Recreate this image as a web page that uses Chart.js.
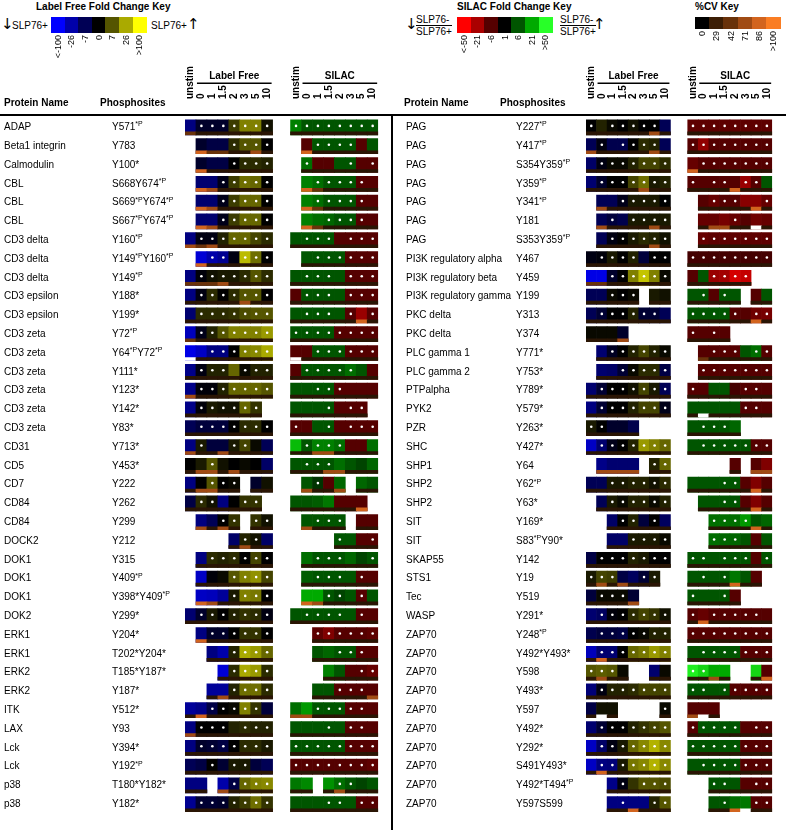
<!DOCTYPE html>
<html lang="en">
<head>
  <meta charset="UTF-8" />
  <title>Phosphosite fold change heatmap</title>
  <script src="https://cdn.jsdelivr.net/npm/chart.js@4"></script>
  <style>
    body { margin: 0; background: #fff; font-family: "Liberation Sans", Arial, sans-serif; color: #000; }
    #page { position: relative; width: 786px; height: 832px; overflow: hidden; }
    .abs { position: absolute; white-space: nowrap; }
    .title { font-weight: bold; font-size: 10px; }
    .lbl { font-size: 10px; }
    .arrow { font-size: 15px; font-family: "DejaVu Sans", sans-serif; }
    .frac { font-size: 10px; line-height: 11px; }
    .frac span { display: block; }
    .frac span:first-child { border-bottom: 1px solid #000; }
    .rot { position: absolute; font-size: 9px; line-height: 10px; text-align: right; transform-origin: 0 0; }
    canvas { position: absolute; top: 60px; }
    .hline { position: absolute; left: 0; top: 114px; width: 786px; height: 2px; background: #000; }
    .vline { position: absolute; left: 391px; top: 114px; width: 2px; height: 716px; background: #000; }
  </style>
</head>
<body>
<div id="page">
  <div class="abs title" style="left:36px;top:1px">Label Free Fold Change Key</div>
  <div class="abs arrow" style="left:1px;top:15px">↓</div>
  <div class="abs lbl" style="left:12px;top:20px">SLP76+</div>
  <div class="abs lbl" style="left:151px;top:20px">SLP76+</div>
  <div class="abs arrow" style="left:187px;top:15px">↑</div>

  <div class="abs title" style="left:457px;top:1px">SILAC Fold Change Key</div>
  <div class="abs arrow" style="left:405px;top:15px">↓</div>
  <div class="abs frac" style="left:416px;top:14px"><span>SLP76-</span><span>SLP76+</span></div>
  <div class="abs frac" style="left:560px;top:14px"><span>SLP76-</span><span>SLP76+</span></div>
  <div class="abs arrow" style="left:593px;top:15px">↑</div>

  <div class="abs title" style="left:695px;top:1px">%CV Key</div>

  <canvas id="leftChart" width="392" height="772" style="left:0"></canvas>
  <canvas id="rightChart" width="392" height="772" style="left:394px"></canvas>
  <div class="hline"></div>
  <div class="vline"></div>
</div>

<script>
  // column labels (minutes)
  const colLabels = ['unstim', '0', '1', '1.5', '2', '3', '5', '10'];

  // key colours and labels
  const lfKeyColors = [[0,0,255],[0,0,170],[0,0,85],[0,0,0],[85,85,0],[170,170,0],[255,255,0]];
  const lfKeyLabels = ['<-100', '-26', '-7', '0', '7', '26', '>100'];
  const silacKeyColors = [[255,0,0],[170,0,0],[85,0,0],[0,0,0],[0,85,0],[0,170,0],[40,255,40]];
  const silacKeyLabels = ['<-50', '-21', '-6', '1', '6', '21', '>50'];
  const cvKeyColors = [[0,0,0],[60,30,5],[105,50,10],[160,75,20],[210,100,30],[250,125,35]];
  const cvKeyLabels = ['0', '29', '42', '71', '86', '>100'];

  // ---- left half ----
  const leftProteins = ['ADAP','Beta1 integrin','Calmodulin','CBL','CBL','CBL','CD3 delta','CD3 delta','CD3 delta',
    'CD3 epsilon','CD3 epsilon','CD3 zeta','CD3 zeta','CD3 zeta','CD3 zeta','CD3 zeta','CD3 zeta','CD31','CD5','CD7',
    'CD84','CD84','DOCK2','DOK1','DOK1','DOK1','DOK2','ERK1','ERK1','ERK2','ERK2','ITK','LAX','Lck','Lck','p38','p38'];
  const leftSites = ['Y571*P','Y783','Y100*','S668Y674*P','S669*PY674*P','S667*PY674*P','Y160*P','Y149*PY160*P','Y149*P',
    'Y188*','Y199*','Y72*P','Y64*PY72*P','Y111*','Y123*','Y142*','Y83*','Y713*','Y453*','Y222','Y262','Y299','Y212',
    'Y315','Y409*P','Y398*Y409*P','Y299*','Y204*','T202*Y204*','T185*Y187*','Y187*','Y512*','Y93','Y394*','Y192*P',
    'T180*Y182*','Y182*'];

  // label free level (-3 .. 3), null = not measured
  const leftLF = [
    [-1.5,-0.5,-0.5,-0.5,0.7,1.5,1.5,0.2],
    [null,-0.5,-0.8,-0.8,0.5,1,1,0],
    [null,-0.5,-0.8,-0.8,0,0.5,0.5,0.4],
    [null,-1.3,-1.3,-0.3,0.7,1.3,1.2,0],
    [null,-1.3,-1.3,-0.3,0.7,1.2,1.2,0],
    [null,-1.3,-1.3,-0.3,0.7,1.2,1.2,0],
    [-1.5,-0.2,-0.2,0.4,1.2,1.2,0.8,0.5],
    [null,-2.5,-2,-1.7,-0.2,2.2,1.3,0],
    [-1.5,-0.1,0.2,0.3,0.3,0.5,1,0.5],
    [-1.5,-0.2,0.5,0,0.5,1,1,0],
    [-1.3,0.5,0.5,0.5,0.6,0.9,1,1],
    [-2.2,-0.3,0.4,1,1.5,1.5,1.5,1.8],
    [-2.7,-2.3,-1.5,-1.5,0,1.5,1.6,2],
    [-1.6,-0.2,0.4,0.4,1.2,0.1,0.4,0.4],
    [-1.6,-0.1,-0.1,0.4,1.2,1.2,1.2,1],
    [-1.6,-0.1,0.3,0.2,0.2,1.2,0.6,null],
    [-1,-0.7,-0.7,-0.7,0,0.5,0.5,0],
    [-1.5,0.3,-0.7,-0.7,0.3,0.8,0.1,-1],
    [0,0.3,1,0.2,0,0.1,0,-1.2],
    [-1.5,0,1,0,0.1,null,-0.5,0.2],
    [-0.8,0.5,0.2,-1.5,0,0.6,0.6,null],
    [null,-1.5,-1,0,0.6,null,0.6,0.2],
    [null,null,null,null,-1.2,0.4,0.2,-1.2],
    [null,-1.5,0.5,0.4,0.5,0,0.8,0],
    [null,-2.3,-0.1,0.1,1,1.5,1.7,0.8],
    [null,-2.3,-2.2,-1.8,0.3,1.5,1.4,0],
    [-1.3,-0.5,0.3,0,0.4,0.6,0.5,-0.2],
    [null,-1.5,-0.5,-0.5,0,0.6,0.6,0],
    [null,null,-1.5,-2,0.4,2,1.8,1.2],
    [null,null,null,-2.5,0.5,2,1.8,0.5],
    [null,null,-1.8,-1.8,0.4,1.3,1.3,0.5],
    [-1.8,-1.6,-0.8,0,0.1,1.5,0.6,-0.7],
    [-1.5,0,0,0,0.4,0.5,0.4,0.4],
    [-1.5,-0.5,-0.6,-0.8,0,0.5,0.5,0.3],
    [-1,-0.8,0,-0.6,0.3,0.3,-0.7,-1],
    [-1.5,-1.5,null,-2,-0.8,1.2,1.5,1.6],
    [-1.7,-0.6,-0.6,-0.5,0.4,0.7,1.3,0.6]
  ];
  // columns with a significance dot
  const leftLFDots = [
    [1,2,3,4,5,6,7],[4,5,6,7],[4,5,6,7],[3,4,5,6,7],[3,4,5,6,7],[3,4,5,6,7],[1,2,3,4,5,6,7],[2,3,5,6,7],
    [1,2,3,4,5,6,7],[1,2,3,4,5,6,7],[1,2,3,4,5,6,7],[1,2,3,4,5,6,7],[2,3,4,5,6,7],[1,2,3,5,6,7],[1,2,3,4,5,6,7],
    [1,2,3,4,5,6],[1,2,3,4,5,6,7],[1,4,5],[2],[2,3,4],[1,2,5,6],[3,4,6,7],[5,6],[2,3,4,5,6,7],[4,5,6,7],[4,5,6,7],
    [1,2,3,4,5,6,7],[2,3,4,5,6,7],[4,5,6,7],[4,5,6,7],[4,5,6,7],[2,3,4,5,6],[1,2,3,5,6,7],[1,2,3,4,5,6,7],[2,4,5],
    [4,5,6,7],[1,2,3,4,5,6,7]
  ];
  // SILAC level (-3 .. 3)
  const leftSILAC = [
    [1.5,1,1,1,1,1,1,1],
    [null,-1,1,1,1,1,-1,1],
    [null,1.3,-1,-1,1,1,-1,-1],
    [null,1.5,1.3,1,1,1,-1,-1],
    [null,1.5,1.3,1,1,1,-1,-1],
    [null,1.5,1.3,1.2,1,1,-1,-1],
    [1,1,1,1,-1,-1,-1,-1],
    [null,1,1,1,1,-1,-1,-1],
    [1,1,1,1,1,-1,-1,-1],
    [-1,1,1,1,1,-1,-1,-1],
    [1,1,1,1,1,-1,-1.8,-1],
    [1,1,1,1,-1,-1,-1,-1],
    [-1,-1,1,1,1,-1,-1,-1],
    [-1,1,1,1,1,1.3,1,-1],
    [1,1,1,1,-1,-1,-1,-1],
    [1,1,1,1,-1,-1,-1,null],
    [-1,-1,1,1,-1,-1,-1,-1],
    [2.2,1,1.5,1.5,1.3,-1,-1,1.3],
    [1,1,1,1,1.3,1,0.8,1.2],
    [null,1,0.6,-1,1.2,null,1.2,1],
    [1,1,1.1,1.4,-1,-1,-1,null],
    [null,1,1,1,1,null,-1,-1],
    [null,null,null,null,1,1,-1,-1],
    [null,1.3,1,1,1,1.2,0.8,1],
    [null,1.1,1,1,1,1,-1,-1],
    [null,2,2,1,0.8,1,-1,1],
    [1,1,1,1,1,1,-1,-1],
    [null,null,-1.1,-1.5,-1,-1,-1,-1.1],
    [null,null,1,1.2,1,1,-1,-1],
    [null,null,null,1.5,1,-1,-1,-1.2],
    [null,null,1,1,-1,-1,-1,-1],
    [1.3,1.8,1,1,1,-1,-1,-1],
    [1,1,1,1,1,-1,-1,-1],
    [1,1,1,1,1,-1,-1,-1],
    [-1,-1,-1,-1,-1,-1,-1,-1.1],
    [1.4,1.6,null,1.7,1.3,1,0.8,1],
    [1,1,1,1,1,1,-1,-1]
  ];
  const leftSILACDots = [
    [0,1,2,3,4,5,6,7],[2,3,4,5],[1,5,7],[2,3,4,5,6],[2,3,4,5,6],[3,4,5,6],[1,2,3,5,6,7],[2,3,4,5,6,7],
    [1,2,3,5,6,7],[1,2,3,5,6,7],[1,2,3,5,7],[0,1,2,3,4,5,6,7],[2,3,4,5,6,7],[1,2,3,4,5],[2,3,4],[3,5,6],
    [0,3,5,6,7],[1,2,3,4],[1,2,3],[2],[],[2,3,4],[4,7],[2,3,4,7],[2,3,4,6],[3,4,6],[1,2,3,4,6],[2,3,4,5,6,7],
    [4,5,6],[6,7],[4,5,6],[2,3,4,5,6],[3,5,6],[0,1,2,3,4,5,6,7],[0,1,2,3,4,5,6,7],[4,5],[3,4,6,7]
  ];
  // %CV strips that differ from the dark default: [row, column, level], -1 = no value
  const leftLFcv = [[0,0,2],[1,1,4],[1,2,2],[1,3,2],[1,6,3],[2,1,4],[3,1,4],[3,2,3],[4,1,4],[4,2,3],[5,1,4],[5,2,3],
    [6,0,3],[6,1,2],[6,2,3],[7,1,4],[8,0,2],[8,1,2],[8,2,2],[8,3,3],[9,5,3],[11,0,2],[12,0,-1],[14,0,3],[17,0,3],
    [17,3,3],[18,1,3],[18,2,3],[18,4,3],[19,1,3],[19,2,3],[21,1,3],[21,3,3],[22,5,3],[25,1,4],[25,2,3],[27,1,4],
    [30,3,3],[31,1,4],[32,0,3],[35,3,3]];
  const leftSILACcv = [[1,1,4],[3,1,4],[3,2,2],[4,1,4],[4,2,2],[5,1,4],[5,2,2],[10,6,4],[12,0,-1],[17,2,3],[17,3,3],
    [18,3,3],[18,4,3],[19,1,3],[19,4,3],[20,6,4],[21,1,3],[25,1,4],[25,2,3],[30,7,3],[31,0,3],[31,1,3],[35,4,3]];

  // ---- right half ----
  const rightProteins = ['PAG','PAG','PAG','PAG','PAG','PAG','PAG','PI3K regulatory alpha','PI3K regulatory beta',
    'PI3K regulatory gamma','PKC delta','PKC delta','PLC gamma 1','PLC gamma 2','PTPalpha','PYK2','PZR','SHC','SHP1',
    'SHP2','SHP2','SIT','SIT','SKAP55','STS1','Tec','WASP','ZAP70','ZAP70','ZAP70','ZAP70','ZAP70','ZAP70','ZAP70',
    'ZAP70','ZAP70','ZAP70'];
  const rightSites = ['Y227*P','Y417*P','S354Y359*P','Y359*P','Y341*P','Y181','S353Y359*P','Y467','Y459','Y199','Y313',
    'Y374','Y771*','Y753*','Y789*','Y579*','Y263*','Y427*','Y64','Y62*P','Y63*','Y169*','S83*PY90*','Y142','Y19',
    'Y519','Y291*','Y248*P','Y492*Y493*','Y598','Y493*','Y597','Y492*','Y292*','S491Y493*','Y492*T494*P','Y597S599'];
  const rightLF = [
    [0,0.4,0.1,0,0.2,0,0,-1],
    [-1,-0.2,-0.9,-0.9,0,0.5,0.4,-1],
    [-1.2,-0.2,0.1,0.1,0.4,0.8,0.8,0.5],
    [-1.3,-0.5,0,0,0.8,1.3,0.3,0.4],
    [null,-1,-1,-0.3,0.3,0.3,0.3,0],
    [null,-1,-0.7,-0.9,0.3,0.3,0.3,0.3],
    [null,-1,-0.2,0,0.3,0.5,0.4,0.2],
    [-0.2,-0.1,0.3,0,0.4,-0.7,0,0],
    [-2.7,-2.7,-0.5,0,1.5,2.3,1.5,0.1],
    [-1,-1,0.1,0,0.1,null,0.3,0.2],
    [-1,-0.6,0,0,0.4,-0.6,-0.6,-1],
    [0.1,0.1,0.1,-0.5,null,null,null,null],
    [null,-1.3,-0.4,0,0.4,0.8,0.4,0.1],
    [null,-1.3,-1.2,-0.6,0.1,0.5,0.5,-0.8],
    [-1.3,-0.6,0,0,0.2,0.8,0.3,-1],
    [-1.5,-0.6,0,0,0.4,0.8,0.8,-0.3],
    [0.3,0,-0.5,-0.5,-0.9,null,null,null],
    [-2.3,-1.3,-0.3,0,0.4,1.8,1.5,1.2],
    [null,-1.6,-1.3,-1.3,-1.3,null,0.4,1.2],
    [-1,-1,0.3,0.3,0.4,0.4,0.2,0.5],
    [null,-1,0.3,0.1,0.4,0.4,0.1,0.4],
    [null,null,-1.2,0,0.4,-0.7,0,-1.1],
    [null,null,-1.2,-1.2,0.3,0.3,0.3,0.1],
    [-0.8,0,0,0,0.4,0.3,0,0],
    [0.3,0.8,0.7,-0.8,-1.1,-0.6,0.3,null],
    [-0.7,0.1,0.1,0.1,-0.6,null,null,null],
    [-1.3,-1.1,-0.1,0,0.5,0.8,0.6,0.2],
    [-0.9,-0.7,-0.7,-0.8,0,0.1,0.4,0.4],
    [-2.2,-1.3,-1.3,0,1.2,1.4,1.8,1.5],
    [1,1.1,1,0.1,null,null,-1.3,0.1],
    [-1.4,-0.2,0.4,0.4,0.5,0.8,0.8,0.8],
    [-0.8,0.2,0.2,null,null,null,null,0.1],
    [-1.3,-0.6,0,0,0.4,0.6,0.8,1],
    [-2.3,-1.2,-0.2,0.3,1.2,1.6,2.1,1.6],
    [-2.3,-1.5,-1.4,0.3,1.4,1.6,2.1,1.6],
    [null,null,-1.6,-0.2,0.6,1,1,0.9],
    [null,null,-1.5,-1.5,-1.5,-1.5,0.4,1]
  ];
  const rightLFDots = [
    [0,2,3,4,5,6],[1,3,4,5,6],[1,2,3,4,5,6,7],[1,2,3,4,5,6,7],[3,4,5,6,7],[2,4,5,6,7],[2,3,4,5,6,7],[1,2,3,4,6,7],
    [2,3,4,5,6,7],[2,3,4],[1,2,3,4,5,6],[],[2,3,4,5,6,7],[3,4,5,6,7],[1,2,3,4,5,6,7],[1,2,3,4,5,6,7],[0,1],
    [1,2,3,4,5,6,7],[6,7],[2,3,4,5,6,7],[2,3,4,5,6,7],[3,4,6],[4,5,6,7],[1,2,3,4,5,6,7],[0,1,2,5,6],[1,2,3],
    [1,2,3,4,5,6,7],[1,2,3,4,5,6,7],[1,2,3,4,5,6,7],[0,1,2],[1,2,3,4,5,6,7],[7],[1,2,3,4,5,6,7],[1,2,3,4,5,6,7],
    [1,2,3,4,5,6,7],[3,5,6,7],[3,6,7]
  ];
  const rightSILAC = [
    [-1.1,-1.1,-1.1,-1.1,-1.1,-1.1,-1.1,-1.1],
    [-1,-1.7,-1,-1,-1,-1,-1,-1],
    [-1.2,-1,-1,-1,-1,-1,-1,-1],
    [-1,-1,-1,-1,-1,-1.8,-1,1],
    [null,-1,-1.2,-1,-1,-1.6,-1.6,-1.2],
    [null,-1.2,-1.2,-1.4,-1.2,-1,-1.3,-1.2],
    [null,-1.2,-1.1,-1.1,-1.1,-1.1,-1.1,-1.1],
    [-0.8,-0.8,-0.8,-0.8,-0.8,-0.8,-0.8,-0.8],
    [-1,1,-1.8,-1.9,-2.5,-2.3,null,null],
    [1,1,-1,1,1,null,-1,1],
    [1,1,1,1,-1,-1,-1.3,-1.4],
    [-1,-1,-1,-1,null,null,null,null],
    [null,-1,-1,-1,-1,1,1.3,-1],
    [null,-1,-1,-1,-1,-1,-1,-1],
    [-1,-1,1,1,-0.8,-1,-1,-1],
    [1,1,1,1,1,-1,-1,-1],
    [1,1,1,1,1.2,null,null,null],
    [1,1,1,1,1,1,-1,-1],
    [null,null,null,null,-1,null,-1,-1.5],
    [1,1,1,1,1,-1,-1.5,-1],
    [null,1,1,1,1,-1,-1.5,-1],
    [null,null,1.3,1.3,1.3,1.8,1,1.2],
    [null,null,1.3,1.2,1.2,1,-1,1],
    [1,1,1,1,1,1,-1,1],
    [1,1,1,1,1.4,1,-1,null],
    [1,1,1,1,-1,null,null,null],
    [-1,-1.2,-1,-1,-1,-1,-1,-1],
    [-1,-1,-1,-1,-1,-1,-1,-1],
    [1,1,1,1,1,-1,-1,-1],
    [2.8,2.5,2,2,null,null,2.5,-1],
    [1,1,1,1,-1,-1,-1,-1],
    [-1,-1,-1,null,null,null,null,null],
    [-1,1,1,1,1,-1,-1,-1],
    [1,1,1,1,1,-1,-1,-1],
    [1,1,1,1,1,-1,-1,-1],
    [null,null,1,1,1,-1,-1,-1],
    [null,null,1,1,1.3,1.4,-1,-1]
  ];
  const rightSILACDots = [
    [0,1,2,3,4,5,6,7],[0,1,2,3,4,5,6,7],[1,2,3,4,5,6,7],[0,2,3,5,6],[2,3,4,7],[4],[1,2,3,4,5,6,7],
    [0,1,2,3,4,5,6,7],[2,3,4,5],[1,3],[0,1,2,3,4,6,7],[0,2],[2,3,4,6,7],[1,2,3,4,5,6,7],[0,5,6],[5,6],[1,2,3],
    [1,2,3,4,5,6,7],[],[3,4],[3,4],[2,3,4,5],[2,3,4],[0,1,3,4,5,7],[1,3],[0,3],[0,2,3,4,5,6],[0,1,2,3,4,5,6,7],
    [1,2,3,4,5,6,7],[0,1],[0,1,3,4,5,6,7],[],[0,1,2,3,4,6,7],[0,1,2,3,4,5,6,7],[1,2,3,4,5,6,7],[2,3,6,7],[3,6,7]
  ];
  const rightLFcv = [[0,6,3],[1,0,3],[1,6,3],[3,5,3],[4,1,3],[5,1,3],[5,6,3],[6,6,3],[8,0,2],[8,1,2],[11,3,3],
    [18,1,3],[18,2,3],[18,3,3],[18,4,3],[24,1,3],[24,3,3],[25,4,3],[28,1,4],[29,1,3],[31,1,-1],[34,1,4],[36,4,4]];
  const rightSILACcv = [[2,0,4],[3,4,4],[4,6,4],[5,2,3],[5,3,3],[5,6,-1],[10,6,4],[12,1,2],[15,1,-1],[18,6,3],
    [18,7,3],[19,6,4],[20,6,4],[21,6,4],[24,4,4],[26,1,4],[29,2,3],[29,7,4],[31,0,3],[31,1,-1],[36,4,4],[36,5,-1]];

  // ---- layout constants ----
  const SILAC_START = 9.64;           // x position of the SILAC block, in cell units
  const X_MAX = SILAC_START + 8;
  const CV_DEFAULT = 0.7;
  const STRIP_SHIFT = 0.32;           // strip sits at the bottom of each cell
  const DOT_SHIFT = -0.08;
  const FONT = '"Liberation Sans", Arial, sans-serif';

  function mix(colors, t) {
    t = Math.max(0, Math.min(colors.length - 1, t));
    const i = Math.min(colors.length - 2, Math.floor(t));
    const f = t - i;
    const a = colors[i], b = colors[i + 1];
    return 'rgb(' + a.map((c, k) => Math.round(c + (b[k] - c) * f)).join(',') + ')';
  }

  // HTML colour keys
  function drawKey(colors, labels, left, top, w, h) {
    const page = document.getElementById('page');
    colors.forEach((c, i) => {
      const sw = document.createElement('div');
      sw.style.cssText = `position:absolute;left:${left + i * w}px;top:${top}px;width:${w + 0.5}px;height:${h}px;background:${mix(colors, i)}`;
      page.appendChild(sw);
      const lb = document.createElement('div');
      lb.className = 'rot';
      lb.textContent = labels[i];
      lb.style.left = (left + i * w + w / 2) + 'px';
      lb.style.top = (top + h + 2) + 'px';
      lb.style.width = '26px';
      lb.style.transform = 'rotate(-90deg) translate(-26px, -5px)';
      page.appendChild(lb);
    });
  }
  drawKey(lfKeyColors, lfKeyLabels, 51, 17, 13.6, 16);
  drawKey(silacKeyColors, silacKeyLabels, 457, 17, 13.6, 16);
  drawKey(cvKeyColors, cvKeyLabels, 695, 17, 14.2, 12);

  function buildData(lf, lfDots, lfCv, sl, slDots, slCv) {
    const cells = [], strips = [], dots = [];
    const panels = [
      { vals: lf, dots: lfDots, cv: lfCv, x0: 0, keys: lfKeyColors },
      { vals: sl, dots: slDots, cv: slCv, x0: SILAC_START, keys: silacKeyColors }
    ];
    panels.forEach(p => {
      const cvMap = {};
      p.cv.forEach(([r, c, l]) => { cvMap[r + '-' + c] = l; });
      p.vals.forEach((row, r) => {
        row.forEach((v, c) => {
          if (v === null) return;
          const x = p.x0 + c;
          cells.push({ x: [x, x + 1], y: r, color: mix(p.keys, v + 3) });
          const l = cvMap[r + '-' + c] ?? CV_DEFAULT;
          strips.push({ x: [x, x + 1], y: r + STRIP_SHIFT, color: l < 0 ? '#ffffff' : mix(cvKeyColors, l) });
        });
        p.dots[r].forEach(c => dots.push({ x: p.x0 + c + 0.5, y: r + DOT_SHIFT }));
      });
    });
    return { cells, strips, dots };
  }

  function drawSite(ctx, text, x, y) {
    let cx = x;
    text.split(/(\*P)/).forEach(part => {
      if (!part) return;
      if (part === '*P') {
        ctx.font = '7px ' + FONT;
        ctx.fillText(part, cx, y - 3);
      } else {
        ctx.font = '10px ' + FONT;
        ctx.fillText(part, cx, y);
      }
      cx += ctx.measureText(part).width;
    });
  }

  const panelText = {
    id: 'panelText',
    afterDraw(chart, args, opts) {
      const { ctx, scales: { x, y } } = chart;
      ctx.save();
      ctx.fillStyle = '#000';
      ctx.textBaseline = 'middle';
      ctx.textAlign = 'left';
      ctx.font = 'bold 10px ' + FONT;
      ctx.fillText('Protein Name', opts.nameHeadX, 43);
      ctx.fillText('Phosphosites', opts.siteHeadX, 43);
      // block titles with underline
      [['Label Free', 1, 8], ['SILAC', SILAC_START + 1, X_MAX]].forEach(([t, a, b]) => {
        const xa = x.getPixelForValue(a) + 1, xb = x.getPixelForValue(b) - 1;
        ctx.textAlign = 'center';
        ctx.fillText(t, (xa + xb) / 2, 16);
        ctx.fillRect(xa, 22.5, xb - xa, 1.5);
      });
      ctx.textAlign = 'left';
      opts.sites.forEach((s, i) => drawSite(ctx, s, opts.siteX, y.getPixelForValue(i)));
      ctx.restore();
    }
  };

  function makeChart(id, proteins, sites, data, pad, yWidth, text) {
    const nRows = proteins.length;
    const colTicks = [];
    for (let c = 0; c < 8; c++) colTicks.push(c + 0.5);
    for (let c = 0; c < 8; c++) colTicks.push(SILAC_START + c + 0.5);
    return new Chart(document.getElementById(id), {
      type: 'bar',
      data: {
        datasets: [
          { type: 'scatter', data: data.dots, pointRadius: 1.3, pointBackgroundColor: '#ffffff',
            pointBorderWidth: 0, order: 1 },
          { type: 'bar', indexAxis: 'y', data: data.strips, barThickness: 3, grouped: false,
            backgroundColor: c => c.raw.color, borderWidth: 0, order: 2 },
          { type: 'bar', indexAxis: 'y', data: data.cells, barThickness: 15, grouped: false,
            backgroundColor: c => c.raw.color, borderWidth: 0, order: 3 }
        ]
      },
      options: {
        responsive: false,
        animation: false,
        events: [],
        layout: { padding: { left: pad.left, right: pad.right, top: 0, bottom: 18.4 } },
        plugins: { legend: { display: false }, tooltip: { enabled: false }, panelText: text },
        scales: {
          x: {
            type: 'linear', position: 'top', min: 0, max: X_MAX, offset: false,
            grid: { display: false, drawTicks: false }, border: { display: false },
            afterBuildTicks: a => { a.ticks = colTicks.map(v => ({ value: v })); },
            afterFit: a => { a.height = 58; },
            ticks: { autoSkip: false, minRotation: 90, maxRotation: 90, padding: 19, labelOffset: 12, color: '#000',
              font: { family: FONT, size: 10, weight: 'bold' }, callback: (v, i) => colLabels[i % 8] }
          },
          y: {
            type: 'linear', reverse: true, min: -0.5, max: nRows - 0.5, offset: false,
            grid: { display: false, drawTicks: false }, border: { display: false },
            afterBuildTicks: a => { a.ticks = proteins.map((_, i) => ({ value: i })); },
            afterFit: a => { a.width = yWidth; },
            ticks: { autoSkip: false, crossAlign: 'far', padding: 0, color: '#000',
              font: { family: FONT, size: 10 }, callback: v => proteins[v] }
          }
        }
      },
      plugins: [panelText]
    });
  }

  makeChart('leftChart', leftProteins, leftSites,
    buildData(leftLF, leftLFDots, leftLFcv, leftSILAC, leftSILACDots, leftSILACcv),
    { left: 4, right: 11.2 }, 181, { sites: leftSites, siteX: 112, nameHeadX: 4, siteHeadX: 100 });

  makeChart('rightChart', rightProteins, rightSites,
    buildData(rightLF, rightLFDots, rightLFcv, rightSILAC, rightSILACDots, rightSILACcv),
    { left: 12, right: 4.2 }, 180, { sites: rightSites, siteX: 122, nameHeadX: 10, siteHeadX: 106 });
</script>
</body>
</html>
